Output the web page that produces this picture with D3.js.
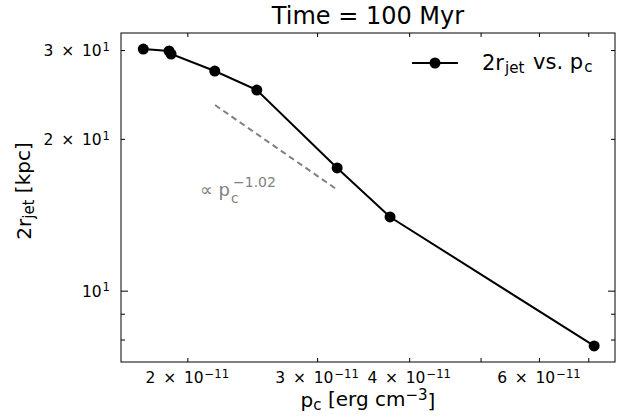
<!DOCTYPE html>
<html>
<head>
<meta charset="utf-8">
<script src="https://cdn.jsdelivr.net/npm/d3@7"></script>
<style>
  body { margin: 0; background: #fff; }
  svg { font-family: 'DejaVu Sans', sans-serif; }
</style>
</head>
<body>
<div class="chart"></div>
<script>
// values
const pc = [1.743e-11, 1.889e-11, 1.901e-11, 2.179e-11, 2.485e-11, 3.194e-11, 3.768e-11, 7.13e-11];
const rjet = [30.14, 29.87, 29.46, 27.26, 24.99, 17.51, 14.0, 7.77];
const fitPc = [2.181e-11, 3.19e-11];
const fitR = [23.34, 15.88];
const xTicks = [2e-11, 3e-11, 4e-11, 5e-11, 6e-11, 7e-11];
const xTickLabels = [['2', '−11'], ['3', '−11'], ['4', '−11'], null, ['6', '−11'], null];
const yTicks = [8, 9, 10, 20, 30];
const yTickLabels = [null, null, ['', '1'], ['2', '1'], ['3', '1']];
const yMajor = [10];

const W = 619, H = 420;
const margin = { top: 33, right: 4, bottom: 58, left: 121 };
const width = W - margin.left - margin.right;
const height = H - margin.top - margin.bottom;

const x = d3.scaleLog().domain([1.6256e-11, 7.61e-11]).range([0, width]);
const y = d3.scaleLog().domain([7.22, 32.43]).range([height, 0]);

const svg = d3.select('.chart').append('svg')
  .attr('width', W).attr('height', H);
const g = svg.append('g')
  .attr('transform', 'translate(' + margin.left + ',' + margin.top + ')');

// writes "m × 10^e" as tspans
function mathLabel(text, lab) {
  text.append('tspan').text(lab[0] ? lab[0] + '\u2002×\u200210' : '10');
  text.append('tspan').attr('dy', '-0.45em').attr('dx', 1).attr('font-size', '75%').text(lab[1]);
}

const minorLen = 4, majorLen = 7;

// axes, ticks pointing inward on all four sides
const axes = [
  { gen: d3.axisBottom(x).tickValues(xTicks), tr: 'translate(0,' + height + ')', sign: -1 },
  { gen: d3.axisTop(x).tickValues(xTicks), tr: null, sign: 1 },
  { gen: d3.axisLeft(y).tickValues(yTicks), tr: null, sign: 1 },
  { gen: d3.axisRight(y).tickValues(yTicks), tr: 'translate(' + width + ',0)', sign: -1 }
];
axes.forEach((a, i) => {
  const ax = g.append('g')
    .attr('transform', a.tr)
    .call(a.gen.tickSizeOuter(0).tickFormat(''));
  ax.select('.domain').remove();
  const vertical = i < 2;
  ax.selectAll('.tick line').each(function (d) {
    const len = !vertical && yMajor.includes(d) ? majorLen : minorLen;
    d3.select(this)
      .attr(vertical ? 'y2' : 'x2', a.sign * len)
      .attr(vertical ? 'x2' : 'y2', 0)
      .attr('stroke', '#000').attr('stroke-width', 1);
  });
  ax.selectAll('.tick text').remove();
});

// frame
g.append('rect')
  .attr('width', width).attr('height', height)
  .attr('fill', 'none').attr('stroke', '#000').attr('stroke-width', 1);

// tick labels
xTicks.forEach((v, i) => {
  if (!xTickLabels[i]) return;
  const t = g.append('text')
    .attr('x', x(v)).attr('y', height + 21)
    .attr('text-anchor', 'middle').attr('font-size', 15.5);
  mathLabel(t, xTickLabels[i]);
});
yTicks.forEach((v, i) => {
  if (!yTickLabels[i]) return;
  const t = g.append('text')
    .attr('x', -11).attr('y', y(v) + 6)
    .attr('text-anchor', 'end').attr('font-size', 15.5);
  mathLabel(t, yTickLabels[i]);
});

// fit line
const line = d3.line().x(d => x(d[0])).y(d => y(d[1]));
g.append('path')
  .datum(d3.zip(fitPc, fitR))
  .attr('d', line)
  .attr('fill', 'none').attr('stroke', '#808080')
  .attr('stroke-width', 2).attr('stroke-dasharray', '6,4');

// data
const data = d3.zip(pc, rjet);
g.append('path')
  .datum(data)
  .attr('d', line)
  .attr('fill', 'none').attr('stroke', '#000').attr('stroke-width', 2);
g.selectAll('.dot')
  .data(data)
  .enter()
  .append('circle')
  .attr('class', 'dot')
  .attr('cx', d => x(d[0]))
  .attr('cy', d => y(d[1]))
  .attr('r', 5.5);

// annotation ∝ p_c^-1.02
const ann = svg.append('text')
  .attr('x', 200).attr('y', 196)
  .attr('font-size', 18).attr('fill', '#808080');
ann.append('tspan').text('∝ p');
const annEnd = 200 + ann.node().getComputedTextLength();
ann.append('tspan').attr('dy', 6.5).attr('dx', 1).attr('font-size', 13.5).text('c');
ann.append('tspan').attr('x', annEnd + 3).attr('dy', -15.5).attr('font-size', 14).text('−1.02');

// title
svg.append('text')
  .attr('x', margin.left + width / 2).attr('y', 24)
  .attr('text-anchor', 'middle').attr('font-size', 24)
  .text('Time = 100 Myr');

// x label
const xl = svg.append('text')
  .attr('x', margin.left + width / 2).attr('y', 407)
  .attr('text-anchor', 'middle').attr('font-size', 20);
xl.append('tspan').text('p');
xl.append('tspan').attr('dy', '0.2em').attr('font-size', '75%').text('c');
xl.append('tspan').attr('dy', '-0.2em').text(' [erg cm');
xl.append('tspan').attr('dy', '-0.4em').attr('font-size', '75%').text('−3');
xl.append('tspan').attr('dy', '0.4em').text(']');

// y label
const yl = svg.append('text')
  .attr('transform', 'translate(31,191) rotate(-90)')
  .attr('text-anchor', 'middle').attr('font-size', 20);
yl.append('tspan').text('2r');
yl.append('tspan').attr('dy', '0.2em').attr('font-size', '75%').text('jet');
yl.append('tspan').attr('dy', '-0.2em').text(' [kpc]');

// legend
const leg = svg.append('g');
leg.append('line')
  .attr('x1', 412).attr('x2', 458).attr('y1', 63).attr('y2', 63)
  .attr('stroke', '#000').attr('stroke-width', 2);
leg.append('circle').attr('cx', 435).attr('cy', 63).attr('r', 5.5);
const lt = leg.append('text')
  .attr('x', 482).attr('y', 70).attr('font-size', 21);
lt.append('tspan').text('2r');
lt.append('tspan').attr('dy', '0.2em').attr('dx', 1).attr('font-size', '72%').text('jet');
lt.append('tspan').attr('dy', '-0.2em').attr('dx', 2).text(' vs. p');
lt.append('tspan').attr('dy', '0.2em').attr('dx', 1).attr('font-size', '72%').text('c');
</script>
</body>
</html>
